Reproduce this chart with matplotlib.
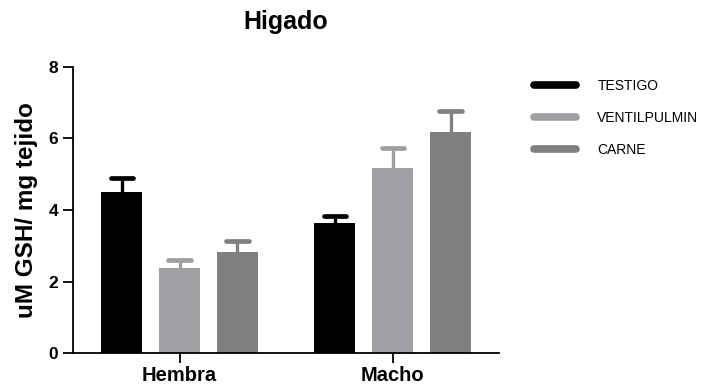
import matplotlib
matplotlib.use("Agg")
import matplotlib.pyplot as plt
from matplotlib.lines import Line2D
import numpy as np

plt.rcParams['font.family'] = ['Liberation Sans', 'DejaVu Sans']

groups = ["Hembra", "Macho"]
series = ["TESTIGO", "VENTILPULMIN", "CARNE"]
means = {
    "TESTIGO": [4.50, 3.64],
    "VENTILPULMIN": [2.38, 5.17],
    "CARNE": [2.82, 6.18],
}
sem = {
    "TESTIGO": [0.40, 0.18],
    "VENTILPULMIN": [0.22, 0.56],
    "CARNE": [0.30, 0.59],
}
colors = {"TESTIGO": "#000000", "VENTILPULMIN": "#a0a0a4", "CARNE": "#808080"}
yticks = [0, 2, 4, 6, 8]

fig = plt.figure(figsize=(7.04, 3.89), dpi=100)
ax = fig.add_axes([0.1037, 0.0925, 0.6053, 0.7353])

x = np.arange(len(groups))
step = 0.272
width = 0.193
cap = 0.052
for i, s in enumerate(series):
    pos = x + (i - 1) * step
    m = np.array(means[s])
    e = np.array(sem[s])
    ax.bar(pos, m, width=width, color=colors[s], edgecolor='none', zorder=2)
    # upper-only error bars with a flat cap
    ax.vlines(pos, m, m + e, color=colors[s], lw=2.4, zorder=1)
    ax.hlines(m + e, pos - cap, pos + cap, color=colors[s], lw=3.4,
              capstyle='round', zorder=1)

ax.set_xlim(-0.5, 1.5)
ax.set_ylim(0, 8)
ax.set_yticks(yticks)
ax.set_xticks(x)
ax.set_xticklabels(groups, fontsize=14.5, fontweight='bold')
ax.set_yticklabels([str(t) for t in yticks], fontsize=12.5, fontweight='bold')
ax.tick_params(axis='y', direction='out', length=7.5, width=1.3, pad=3)
ax.tick_params(axis='x', direction='out', length=7, width=1.3, pad=2)
for side in ('top', 'right'):
    ax.spines[side].set_visible(False)
for side in ('left', 'bottom'):
    ax.spines[side].set_linewidth(1.3)
ax.set_ylabel("uM GSH/ mg tejido", fontsize=17.5, fontweight='bold', labelpad=8)
ax.set_title("Higado", fontsize=18, fontweight='bold', pad=27)

handles = [Line2D([0], [0], color=colors[s], lw=5.5, solid_capstyle='round') for s in series]
fig.legend(handles, series, loc='upper left', bbox_to_anchor=(0.741, 0.830),
           frameon=False, fontsize=10, handlelength=3.0, handletextpad=1.55,
           labelspacing=1.32)

fig.savefig("out.png", dpi=100)
